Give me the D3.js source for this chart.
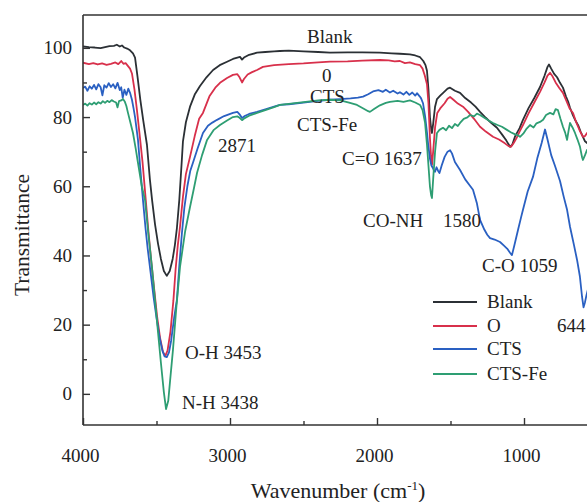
<!DOCTYPE html>
<html>
<head>
<meta charset="utf-8">
<script src="https://cdn.jsdelivr.net/npm/d3@7"></script>
<style>
  html, body { margin: 0; padding: 0; background: #fff; }
  svg { display: block; }
  text { font-family: "Liberation Serif", "DejaVu Serif", "Times New Roman", serif; fill: #222; }
</style>
</head>
<body>
<svg id="chart" width="587" height="502"></svg>
<script>
// ---- data (wavenumber cm-1, transmittance) ----
const seriesNames = ["Blank", "O", "CTS", "CTS-Fe"];
const xMajorTicks = [4000, 3000, 2000, 1000];
const xMinorTicks = [3500, 2500, 1500, 500];
const yMajorTicks = [0, 20, 40, 60, 80, 100];
const yMinorTicks = [10, 30, 50, 70, 90];

const blank = [[4000,100.4],[3960,100.2],[3920,100.1],[3880,99.9],[3850,100.2],[3820,100.5],[3790,100.6],[3770,100.9],[3750,100.4],[3735,100.7],[3720,100.1],[3700,99.8],[3680,99.3],[3660,98.4],[3646,97.2],[3630,92],[3610,85],[3590,79],[3565,72],[3545,62],[3530,56],[3510,49],[3490,43.5],[3470,39],[3450,35.5],[3430,34.1],[3410,35.5],[3390,39],[3375,43],[3361,48],[3345,56],[3330,66],[3320,73],[3300,78.5],[3272,83],[3240,86.5],[3204,89],[3160,91.5],[3115,93.6],[3070,95],[3020,96],[2980,96.8],[2950,97.2],[2932,97.4],[2918,96.6],[2905,97.2],[2870,98],[2816,98.6],[2760,98.8],[2700,99],[2660,99.1],[2600,99.2],[2500,99],[2400,98.8],[2320,98.6],[2200,98.7],[2100,98.7],[1980,98.6],[1900,98.4],[1844,98.3],[1776,98.1],[1740,97.8],[1707,97.3],[1685,96.2],[1670,95],[1660,93.4],[1650,88],[1640,80],[1630,76],[1626,75.4],[1618,78],[1605,83],[1592,85.2],[1570,86.2],[1550,87],[1520,88.2],[1503,88.5],[1470,87.6],[1435,87],[1400,85.5],[1360,84.2],[1330,83],[1299,81.5],[1260,79.8],[1220,78.2],[1184,76.9],[1150,75],[1120,73.2],[1095,71.4],[1080,72],[1060,74.5],[1030,76.8],[1007,79.2],[970,82.5],[930,85.5],[891,88.7],[860,92],[840,94.5],[830,95.2],[815,94],[795,92.5],[775,91.5],[755,89.9],[735,88.5],[715,86],[700,84.5],[687,82.7],[670,80.8],[650,79],[630,77.5],[615,75.8],[599,74.3],[585,73],[571,72.5],[550,74],[520,76]];

const oSample = [[4000,95.7],[3960,95.3],[3930,95.6],[3900,95.2],[3870,95.5],[3840,95.1],[3810,95.4],[3780,95.8],[3760,95.3],[3740,96.2],[3725,95.4],[3710,95.6],[3695,94.8],[3680,94],[3667,92.6],[3650,88],[3633,82],[3615,75],[3595,67],[3575,57],[3555,47],[3535,38],[3515,30],[3495,22],[3475,16],[3455,12],[3440,11],[3425,12.5],[3405,18],[3385,27],[3370,36],[3355,43],[3340,48.3],[3320,57],[3300,63.5],[3272,68.5],[3240,74.5],[3210,79.5],[3184,81.2],[3140,86],[3100,88.5],[3068,89.9],[3020,91.3],[2980,92.2],[2950,92.4],[2935,91.5],[2918,90],[2905,91],[2880,92.3],[2850,93],[2816,93.6],[2776,94.5],[2700,95],[2600,95.3],[2500,95.5],[2400,95.8],[2320,96],[2200,96.1],[2100,96.3],[1980,96.5],[1920,96.4],[1880,96.1],[1844,96.2],[1810,95.6],[1776,95.8],[1740,95.3],[1707,95],[1690,94],[1675,92],[1660,89.5],[1650,84],[1640,74],[1630,67],[1626,66.2],[1618,70],[1605,77],[1590,81.2],[1570,82.5],[1540,84],[1520,85.3],[1503,85.8],[1480,85],[1450,83.9],[1415,83],[1380,81.5],[1340,79.5],[1299,77.2],[1260,75.8],[1211,74.3],[1170,73.5],[1130,72.4],[1105,71.6],[1088,71.4],[1070,72.5],[1050,74],[1030,75.8],[1007,77.7],[970,81],[930,84.2],[891,87.3],[860,90],[840,92],[823,92.8],[805,91.7],[785,90],[760,88.4],[735,87],[710,84.5],[690,82.5],[667,81.2],[645,78.5],[620,76],[599,74.3],[585,74.5],[571,75.4],[550,76]];

const cts = [[4000,88.4],[3985,88.8],[3970,87.6],[3955,88.9],[3940,88.2],[3925,89.3],[3910,88],[3895,89.5],[3880,88.6],[3868,86.3],[3855,89.2],[3840,88.5],[3825,89.8],[3810,88.7],[3795,89.5],[3780,88.3],[3765,89.9],[3750,87.8],[3740,88.6],[3730,85.6],[3718,87.9],[3705,86.4],[3692,88.2],[3680,87],[3667,85],[3656,82.5],[3646,80],[3626,73.4],[3610,65],[3592,56],[3575,48],[3560,42],[3540,35],[3520,28],[3500,22],[3480,16.5],[3460,12.5],[3445,10.8],[3430,10.6],[3415,12],[3400,15.5],[3380,22],[3361,27.2],[3345,37],[3327,46.5],[3310,54],[3290,60],[3270,64.5],[3252,66.8],[3220,71],[3184,75.4],[3150,77.5],[3120,78.4],[3088,79.2],[3040,80.3],[2980,81.2],[2950,81.5],[2935,80.8],[2918,79.7],[2900,80.3],[2870,80.9],[2816,81.5],[2760,82.2],[2700,83],[2660,83.5],[2600,83.7],[2500,84.2],[2400,84.7],[2320,85],[2250,85.2],[2180,85.4],[2130,85.6],[2095,85.9],[2060,86.6],[2027,87.4],[1990,87.8],[1960,87.3],[1940,87.9],[1912,87.1],[1890,87.6],[1860,86.8],[1844,87.2],[1820,86.5],[1800,87.3],[1780,86.4],[1760,87.1],[1740,86.2],[1728,86.9],[1710,86],[1700,85.4],[1687,84],[1672,80],[1660,75.5],[1653,72.5],[1640,68],[1630,66],[1619,65.2],[1612,64.4],[1605,64.2],[1595,65.5],[1585,64.5],[1575,63.8],[1560,66],[1540,68.5],[1520,70],[1503,70.4],[1490,69.5],[1470,67],[1435,64.7],[1400,62],[1370,60.3],[1347,59],[1320,55],[1299,50.3],[1270,47.5],[1250,46],[1231,45],[1200,44.6],[1163,43.9],[1140,43],[1115,42],[1095,40.8],[1082,40.1],[1065,43],[1040,47.5],[1020,51],[1007,53.2],[975,58.5],[939,62.7],[910,68],[880,72.5],[857,76.4],[840,73.5],[815,69],[790,66],[755,61.5],[730,57],[707,53.2],[687,48.3],[660,43],[639,38.7],[620,34],[605,28],[595,25],[585,26.5],[575,28.5],[560,31]];

const ctsFe = [[4000,83.5],[3985,83.9],[3970,83.3],[3955,84],[3940,83.6],[3925,84.2],[3910,83.7],[3895,84.3],[3880,83.9],[3865,84.6],[3850,84.1],[3835,84.7],[3820,84.3],[3805,84.9],[3790,84.5],[3775,84.2],[3765,82.8],[3755,84.6],[3740,84.8],[3728,85.2],[3715,84.4],[3705,83.2],[3694,81.2],[3678,78.5],[3660,75.4],[3642,71],[3626,66.8],[3600,60],[3578,56],[3555,46],[3531,36.7],[3510,27],[3490,18],[3470,9],[3450,0.5],[3435,-4.4],[3420,-2],[3405,5],[3388,12.7],[3365,25],[3340,36.7],[3305,47],[3272,54],[3245,59.5],[3224,63.9],[3190,69],[3156,73.4],[3110,76.3],[3068,77.7],[3020,79],[2980,80],[2950,80.2],[2935,79.8],[2918,79.1],[2900,79.7],[2870,80.4],[2816,81.2],[2760,82],[2700,82.9],[2660,83.5],[2600,83.8],[2500,84.3],[2400,84.8],[2320,85],[2250,84.8],[2190,84.2],[2136,83.5],[2090,82.4],[2060,81.7],[2048,81.5],[2020,82.3],[1980,83.4],[1940,84.1],[1912,84.4],[1860,84.7],[1820,84.4],[1776,84.8],[1740,84.2],[1707,83.5],[1690,82],[1673,78.3],[1660,72],[1650,66],[1640,60],[1632,57.5],[1626,56.6],[1618,62],[1605,70],[1592,75.4],[1575,76.3],[1551,76.9],[1530,76.2],[1510,77.5],[1490,76.8],[1470,78],[1450,77.4],[1435,78.3],[1410,79.5],[1385,79.9],[1367,80.6],[1340,80.2],[1320,81],[1299,80.6],[1270,79.8],[1240,79],[1211,78.3],[1180,77.7],[1150,77.2],[1116,76.3],[1090,75.6],[1060,75],[1040,74.7],[1027,74.3],[1005,75.2],[985,76.5],[959,77.7],[935,77],[915,78.2],[891,78.6],[870,79.2],[850,80.6],[823,81.2],[800,80.8],[785,82.3],[769,82],[752,79.5],[735,77.2],[720,75.5],[707,73.4],[697,76],[687,78.3],[670,77],[653,75.4],[636,73.5],[619,71.4],[605,68.4],[599,67.6],[585,69],[571,70.5],[555,71]];

const seriesData = [blank, oSample, cts, ctsFe];
const colors = ["#2b3035", "#d8304b", "#2a60c2", "#2e9e73"];

const annotations = ["Blank", "0", "CTS", "CTS-Fe", "C=O 1637", "CO-NH", "1580", "2871", "O-H 3453", "N-H 3438", "C-O 1059", "644"];

// ---- layout ----
const FONT = "'Liberation Serif', 'DejaVu Serif', 'Times New Roman', serif";
const svg = d3.select("#chart");
const padL = 83, padT = 15, padB = 425;
const x = d3.scaleLinear().domain([4000, 400]).range([padL, padL + 3600 * 0.147]);
const y = d3.scaleLinear().domain([-9, 109.5]).range([padB, padT]);

svg.append("defs").append("clipPath").attr("id", "clip")
  .append("rect").attr("x", padL).attr("y", padT).attr("width", 600).attr("height", padB - padT);

const line = d3.line().x(d => x(d[0])).y(d => y(d[1]));
const g = svg.append("g").attr("clip-path", "url(#clip)");
seriesData.forEach((s, i) => {
  g.append("path").datum(s)
    .attr("fill", "none").attr("stroke", colors[i])
    .attr("stroke-width", 1.8).attr("stroke-linejoin", "round")
    .attr("d", line);
});

const axisColor = "#333";
svg.append("line").attr("x1", padL).attr("x2", 587).attr("y1", padT).attr("y2", padT)
  .attr("stroke", axisColor).attr("stroke-width", 1.6);

const xAxis = svg.append("g").attr("transform", `translate(0,${padB})`)
  .call(d3.axisBottom(x).tickValues(xMajorTicks).tickSizeInner(-7).tickSizeOuter(0).tickPadding(24).tickFormat(d3.format("d")));
svg.append("g").attr("transform", `translate(0,${padB})`)
  .call(d3.axisBottom(x).tickValues(xMinorTicks).tickSizeInner(-4).tickSizeOuter(0).tickFormat(""))
  .select(".domain").remove();

const yAxis = svg.append("g").attr("transform", `translate(${padL},0)`)
  .call(d3.axisLeft(y).tickValues(yMajorTicks).tickSizeInner(-7).tickSizeOuter(0).tickPadding(11));
svg.append("g").attr("transform", `translate(${padL},0)`)
  .call(d3.axisLeft(y).tickValues(yMinorTicks).tickSizeInner(-4).tickSizeOuter(0).tickFormat(""))
  .select(".domain").remove();

svg.selectAll("g").attr("font-family", FONT);
svg.selectAll(".domain").attr("stroke", axisColor).attr("stroke-width", 1.6);
svg.selectAll(".tick line").attr("stroke", axisColor).attr("stroke-width", 1.4);
svg.selectAll(".tick text").attr("font-family", FONT).attr("font-size", 19).attr("fill", "#222");
xAxis.selectAll(".tick text").attr("dx", -3);
yAxis.select(".domain").attr("d", `M0,${padT}V${padB}`);
xAxis.select(".domain").attr("d", `M${padL},0H587`);

svg.append("text").attr("transform", "translate(29,235) rotate(-90)")
  .attr("font-family", FONT).attr("text-anchor", "middle").attr("font-size", 21.5).text("Transmittance");
const xt = svg.append("text").attr("x", 338).attr("y", 498).attr("font-family", FONT)
  .attr("text-anchor", "middle").attr("font-size", 22);
xt.append("tspan").text("Wavenumber (cm");
xt.append("tspan").attr("font-size", 13).attr("dy", -8).text("-1");
xt.append("tspan").attr("dy", 8).text(")");

const annPos = [[307,43],[322,82],[310,103],[297,131],[342,165],[363,227],[443,227],[218,152],[185,359],[182,409],[482,272],[557,332]];
annotations.forEach((t, i) => {
  svg.append("text").attr("x", annPos[i][0]).attr("y", annPos[i][1])
    .attr("font-family", FONT).attr("font-size", 19).text(t);
});

const legY = [302, 326, 349, 374];
seriesNames.forEach((n, i) => {
  svg.append("line").attr("x1", 433).attr("x2", 477).attr("y1", legY[i]).attr("y2", legY[i])
    .attr("stroke", colors[i]).attr("stroke-width", 2);
  svg.append("text").attr("x", 487).attr("y", legY[i] + 6).attr("font-family", FONT).attr("font-size", 19).text(n);
});
</script>
</body>
</html>
